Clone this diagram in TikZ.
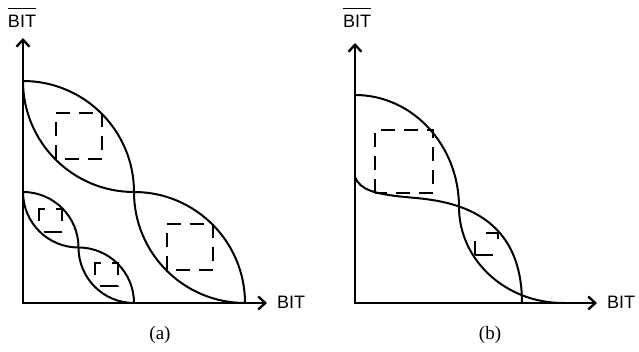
\documentclass[tikz,border=0pt]{standalone}
\usepackage{fontspec}
\setmainfont{Liberation Serif}
\newfontfamily\arial{Liberation Sans}
\usetikzlibrary{arrows.meta}

\begin{document}
\begin{tikzpicture}[
            x=1pt, y=1pt,
            axis/.style={
                    line width=2.4pt,
                    {Straight Barb[length=7pt,width=13pt]}-{Straight Barb[length=7pt,width=13pt]}
                },
            curve/.style={
                    line width=2pt
                },
            dashbox/.style={
                    line width=2pt,
                    dash pattern=on 14pt off 9pt
                },
            smallbox/.style={
                    line width=2pt,
                    dash pattern=on 18pt off 11pt,
                    dash phase=18pt
                },
            axislabel/.style={
                    font=\arial\fontsize{18}{20}\selectfont,
                    inner sep=0pt
                },
            caption/.style={
                    font=\fontsize{19}{21}\selectfont,
                    inner sep=0pt
                }
            ]
            \useasboundingbox (0,0) rectangle (639,352);

            % Panel (a): sumbu
            \coordinate (ytopa) at (23,314);
            \coordinate (xenda) at (267,49);
            \draw [axis] (ytopa) |- (xenda);

            \node (bitbara) [axislabel, anchor=base] at (22,324) {$\overline{\hbox{\rule{0pt}{18pt}BIT}}$};
            \node (bita) [axislabel, anchor=base west] at (277,43) {BIT};
            \node (capa) [caption] at (160,17) {(a)};

            % Panel (a): kurva besar
            \draw [curve] (23,271) arc[start angle=90, end angle=0, radius=111pt]
                arc[start angle=180, end angle=270, radius=111pt];
            \draw [curve] (23,271) arc[start angle=180, end angle=270, radius=111pt]
                arc[start angle=90, end angle=0, radius=111pt];

            % Panel (a): kurva kecil
            \draw [curve] (23,160) arc[start angle=90, end angle=0, radius=55.5pt]
                arc[start angle=180, end angle=270, radius=55.5pt];
            \draw [curve] (23,160) arc[start angle=180, end angle=270, radius=55.5pt]
                arc[start angle=90, end angle=0, radius=55.5pt];

            % Panel (a): kotak putus-putus
            \draw [dashbox] (55.5,192.5) rectangle (101.5,238.5);
            \draw [dashbox] (166.5,81.5) rectangle (212.5,127.5);
            \draw [smallbox] (39.25,120.25) rectangle (62.25,143.25);
            \draw [smallbox] (94.75,65.75) rectangle (117.75,88.75);

            % Panel (b): sumbu
            \coordinate (ytopb) at (355,309);
            \coordinate (xendb) at (597,49);
            \draw [axis] (ytopb) |- (xendb);

            \node (bitbarb) [axislabel, anchor=base] at (357,324) {$\overline{\hbox{\rule{0pt}{18pt}BIT}}$};
            \node (bitb) [axislabel, anchor=base west] at (607,43) {BIT};
            \node (capb) [caption] at (490,17) {(b)};

            % Panel (b): kurva
            \draw [curve] (355,257) arc[start angle=90, end angle=0, x radius=104pt, y radius=112pt]
                arc[start angle=180, end angle=270, x radius=104pt, y radius=96pt];
            \draw [curve] (355,175) .. controls (360,162) and (375,158) .. (405,155)
                .. controls (435,152) and (522,150) .. (522,49);

            % Panel (b): kotak putus-putus
            \draw [dashbox] (375,159) rectangle (433,222);
            \draw [dashbox, dash pattern=on 14pt off 19pt on 18pt off 21pt on 18pt off 0pt]
                (475,97) rectangle (498,119);

        \end{tikzpicture}
\end{document}
